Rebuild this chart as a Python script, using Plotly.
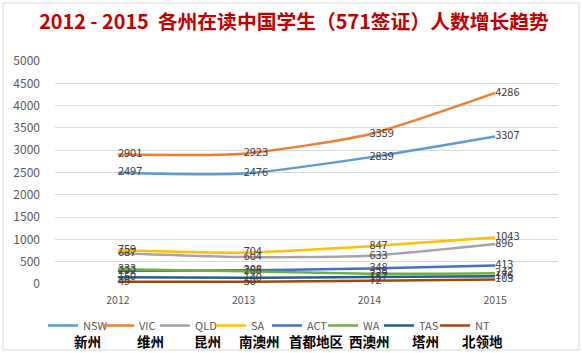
import plotly.graph_objects as go

years = ["2012", "2013", "2014", "2015"]
names_en = ["NSW", "VIC", "QLD", "SA", "ACT", "WA", "TAS", "NT"]
names_cn = ["新州", "维州", "昆州", "南澳州", "首都地区", "西澳州", "塔州", "北领地"]
nsw = [2497, 2476, 2839, 3307]
vic = [2901, 2923, 3359, 4286]
qld = [687, 604, 633, 896]
sa = [759, 704, 847, 1043]
act = [292, 308, 348, 413]
wa = [333, 288, 229, 242]
tas = [150, 140, 157, 176]
nt = [49, 50, 72, 103]
series = [nsw, vic, qld, sa, act, wa, tas, nt]
colors = ["#5B9BD5", "#ED7D31", "#A5A5A5", "#FFC000", "#4472C4", "#70AD47", "#255E91", "#9E480E"]
yticks = [0, 500, 1000, 1500, 2000, 2500, 3000, 3500, 4000, 4500, 5000]

FONT = "Noto Sans CJK SC, Liberation Sans, sans-serif"

fig = go.Figure()
for en, vals, col in zip(names_en, series, colors):
    fig.add_trace(go.Scatter(
        x=years, y=vals, mode="lines+text",
        name=en,
        line=dict(color=col, width=2.5, shape="spline", smoothing=0.6),
        text=[str(v) for v in vals], textposition="middle right",
        textfont=dict(size=11, color="#404040", family=FONT),
        cliponaxis=False,
    ))

W, H = 582, 353
L, R, T, B = 55, 24, 61, 69
pw, ph = W - L - R, H - T - B

def px(x):
    return (x - L) / pw

def py(y):
    return (H - B - y) / ph

fig.add_shape(type="rect", xref="paper", yref="paper",
              x0=px(3), x1=px(579), y0=py(350), y1=py(3),
              line=dict(color="#D9D9D9", width=1), fillcolor="rgba(0,0,0,0)", layer="below")

# Chinese legend captions under each legend entry
cn_x = [72, 135, 192, 237, 287, 347, 410, 460]
for cn, x in zip(names_cn, cn_x):
    fig.add_annotation(text=f"<b>{cn}</b>", xref="paper", yref="paper",
                       x=px(x), xanchor="left", y=py(341), yanchor="middle",
                       showarrow=False, font=dict(size=13.5, color="#000000", family=FONT))

fig.update_layout(
    width=W, height=H,
    margin=dict(l=L, r=R, t=T, b=B, autoexpand=False),
    paper_bgcolor="white", plot_bgcolor="white",
    font=dict(family=FONT, color="#595959", size=11),
    title=dict(text="<b>2012 - 2015  各州在读中国学生（571签证）人数增长趋势</b>",
               xref="container", x=294 / W, xanchor="center", y=1 - 22 / H, yanchor="middle",
               font=dict(size=19.8, color="#C00000", family=FONT)),
    xaxis=dict(range=[-0.5, 3.5], showgrid=False, showline=False, zeroline=False, ticks="",
               ticklabelstandoff=8, tickfont=dict(size=10.5, color="#595959")),
    yaxis=dict(range=[0, 5000], tickvals=yticks, showgrid=True, gridcolor="#D9D9D9",
               gridwidth=1, zeroline=False, showline=False, ticks="",
               ticklabelstandoff=14, tickfont=dict(size=12, color="#595959")),
    legend=dict(orientation="h", x=px(43), xanchor="left", y=py(311), yanchor="top",
                font=dict(size=11, color="#595959", family=FONT),
                entrywidth=11, entrywidthmode="pixels",
                itemwidth=30, tracegroupgap=0, bgcolor="rgba(0,0,0,0)"),
    showlegend=True,
)

fig.write_html("out.html")
